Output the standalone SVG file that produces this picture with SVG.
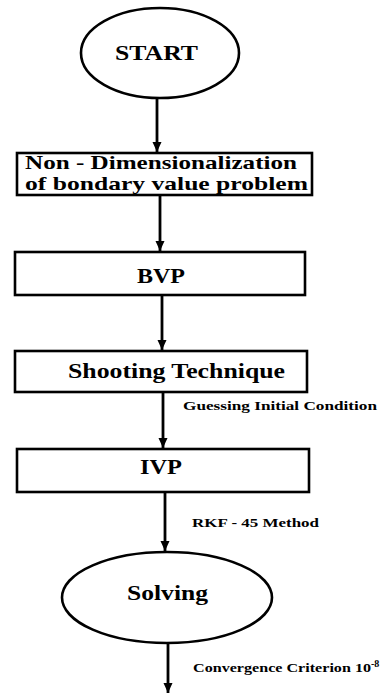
<svg xmlns="http://www.w3.org/2000/svg" width="382" height="693" viewBox="0 0 382 693">
<style>
.shape{fill:#fff;stroke:#000;stroke-width:2.6}
text{font-family:'Liberation Serif','DejaVu Serif',serif;font-weight:700;fill:#000}
.big{font-size:21px}
.lbl{font-size:12.5px}
.conn line{stroke:#000;stroke-width:2.8}
</style>
<defs>
<marker id="ah" markerUnits="userSpaceOnUse" markerWidth="10" markerHeight="10" viewBox="0 0 10 10" refX="10" refY="5" orient="auto">
<path d="M0,0.5 L10,5 L0,9.5 Z" fill="#000"/>
</marker>
</defs>
<rect width="382" height="693" fill="#fff"/>
<g id="start">
<ellipse class="shape" cx="160" cy="53" rx="79" ry="45"/>
<text class="big" font-family="Liberation Serif" x="115" y="60" textLength="83" lengthAdjust="spacingAndGlyphs">START</text>
</g>
<g id="nondim">
<rect class="shape" x="17" y="153" width="295" height="42"/>
<text font-family="Liberation Serif" style="font-size:19px" x="25" y="169" textLength="272" lengthAdjust="spacingAndGlyphs">Non - Dimensionalization</text>
<text font-family="Liberation Serif" style="font-size:19px" x="25" y="190" textLength="283" lengthAdjust="spacingAndGlyphs">of bondary value problem</text>
</g>
<g id="bvp">
<rect class="shape" x="15" y="252" width="290" height="43"/>
<text class="big" font-family="Liberation Serif" x="137" y="283" textLength="48" lengthAdjust="spacingAndGlyphs">BVP</text>
</g>
<g id="shooting">
<rect class="shape" x="15" y="351" width="292" height="41"/>
<text font-family="Liberation Serif" style="font-size:21px" x="68" y="378" textLength="217" lengthAdjust="spacingAndGlyphs">Shooting Technique</text>
</g>
<g id="ivp">
<rect class="shape" x="17" y="449" width="292" height="43"/>
<text class="big" font-family="Liberation Serif" x="140" y="474" textLength="42" lengthAdjust="spacingAndGlyphs">IVP</text>
</g>
<g id="solving">
<ellipse class="shape" cx="167" cy="597.5" rx="105" ry="45.5"/>
<text class="big" font-family="Liberation Serif" x="127" y="600" textLength="81" lengthAdjust="spacingAndGlyphs">Solving</text>
</g>
<g id="connectors" class="conn">
<line x1="157" y1="98" x2="157" y2="152" marker-end="url(#ah)"/>
<line x1="160" y1="195" x2="160" y2="251" marker-end="url(#ah)"/>
<line x1="162" y1="295" x2="162" y2="350" marker-end="url(#ah)"/>
<line x1="163" y1="392" x2="163" y2="448" marker-end="url(#ah)"/>
<line x1="165" y1="492" x2="165" y2="551" marker-end="url(#ah)"/>
<line x1="168" y1="643" x2="168" y2="693" marker-end="url(#ah)"/>
</g>
<g id="labels">
<text class="lbl" font-family="Liberation Serif" x="183" y="410" textLength="194" lengthAdjust="spacingAndGlyphs">Guessing Initial Condition</text>
<text class="lbl" font-family="Liberation Serif" x="192" y="527" textLength="127" lengthAdjust="spacingAndGlyphs">RKF - 45 Method</text>
<text class="lbl" font-family="Liberation Serif" x="193" y="672"><tspan textLength="178" lengthAdjust="spacingAndGlyphs">Convergence Criterion 10</tspan><tspan style="font-size:10px" dy="-5">-8</tspan></text>
</g>
</svg>
